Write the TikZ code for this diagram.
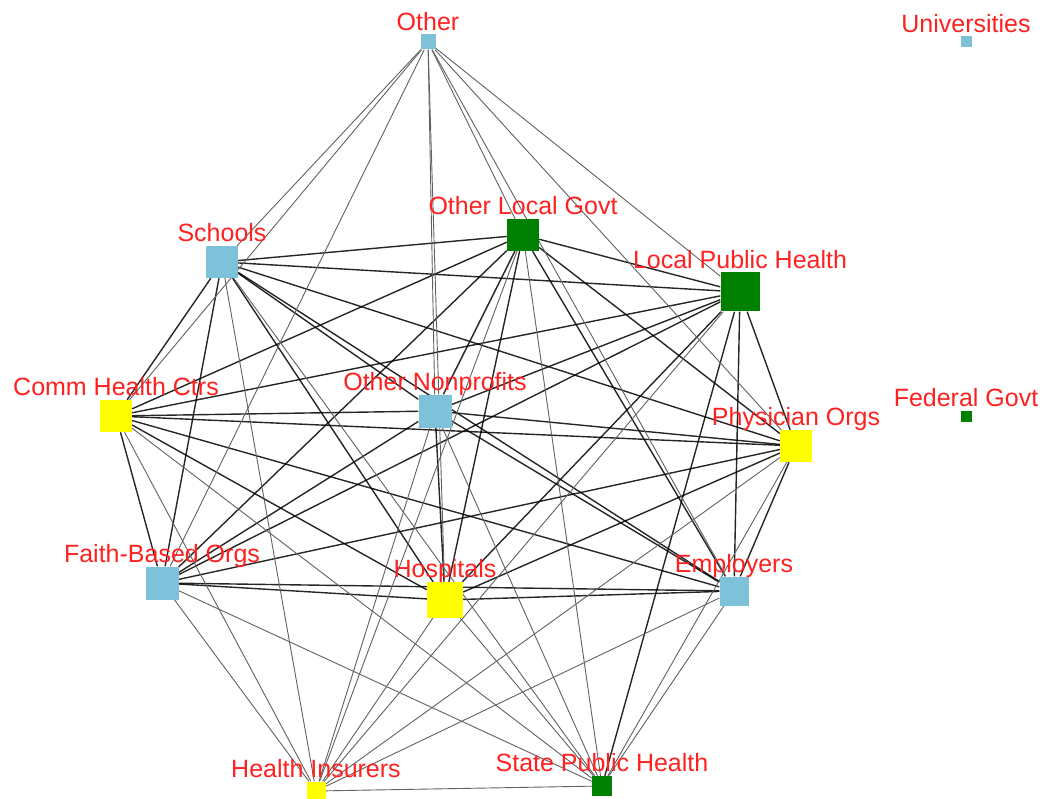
\documentclass[tikz,border=0pt]{standalone}
\usepackage{fontspec}
\setmainfont{Liberation Sans}
\definecolor{lblue}{RGB}{126,194,218}
\definecolor{dgreen}{RGB}{0,128,0}
\definecolor{ylw}{RGB}{255,255,0}
\definecolor{lred}{RGB}{255,32,32}
\pgfdeclarelayer{bg}
\pgfsetlayers{bg,main}
\begin{document}
\begin{tikzpicture}[x=1pt,y=-1pt,
  sq/.style={rectangle,inner sep=0pt,minimum size=#1,draw=none},
  lab/.style={text=lred,font=\fontsize{25}{30}\selectfont,anchor=base,inner sep=0pt},
  strong/.style={draw=black,line width=1.4pt,opacity=0.85},
  weak/.style={draw=black!62,line width=0.9pt}]
\useasboundingbox (0,0) rectangle (1046,799);
% nodes
\node[sq=15,fill=lblue] (O) at (428,42) {};
\node[sq=11,fill=lblue] (U) at (966,42) {};
\node[sq=32,fill=lblue] (S) at (222,262) {};
\node[sq=32,fill=dgreen] (OLG) at (523,235) {};
\node[sq=39,fill=dgreen] (LPH) at (740,292) {};
\node[sq=32,fill=ylw] (CHC) at (116,416) {};
\node[sq=33,fill=lblue] (ON) at (435,411) {};
\node[sq=32,fill=ylw] (PO) at (796,446) {};
\node[sq=11,fill=dgreen] (FG) at (966,416) {};
\node[sq=33,fill=lblue] (FBO) at (162,583) {};
\node[sq=36,fill=ylw] (H) at (445,600) {};
\node[sq=29,fill=lblue] (E) at (734,591) {};
\node[sq=19,fill=ylw] (HI) at (316,791) {};
\node[sq=20,fill=dgreen] (SPH) at (602,786) {};
% labels
\node[lab] (O-l) at ([yshift=4pt]O.north) {Other};
\node[lab] (U-l) at ([yshift=4pt]U.north) {Universities};
\node[lab] (S-l) at ([yshift=4pt]S.north) {Schools};
\node[lab] (OLG-l) at ([yshift=4pt]OLG.north) {Other Local Govt};
\node[lab] (LPH-l) at ([yshift=4pt]LPH.north) {Local Public Health};
\node[lab] (CHC-l) at ([yshift=4pt]CHC.north) {Comm Health Ctrs};
\node[lab] (ON-l) at ([yshift=4pt]ON.north) {Other Nonprofits};
\node[lab] (PO-l) at ([yshift=4pt]PO.north) {Physician Orgs};
\node[lab] (FG-l) at ([yshift=4pt]FG.north) {Federal Govt};
\node[lab] (FBO-l) at ([yshift=4pt]FBO.north) {Faith-Based Orgs};
\node[lab] (H-l) at ([yshift=4pt]H.north) {Hospitals};
\node[lab] (E-l) at ([yshift=4pt]E.north) {Employers};
\node[lab] (HI-l) at ([yshift=4pt]HI.north) {Health Insurers};
\node[lab] (SPH-l) at ([yshift=4pt]SPH.north) {State Public Health};
% edges
\begin{pgfonlayer}{bg}
\foreach \a/\b in {S/OLG,S/LPH,S/PO,S/ON,S/E,S/H,S/CHC,S/FBO,
  OLG/LPH,OLG/CHC,OLG/FBO,OLG/ON,OLG/H,OLG/E,OLG/PO,
  LPH/CHC,LPH/FBO,LPH/ON,LPH/H,LPH/E,LPH/PO,LPH/SPH,
  CHC/ON,CHC/PO,CHC/H,CHC/E,CHC/FBO,
  ON/PO,ON/H,ON/E,ON/FBO,
  PO/H,PO/E,PO/FBO,
  FBO/H,FBO/E,H/E}
  \draw[strong] (\a) -- (\b);
\foreach \a/\b in {O/S,O/CHC,O/FBO,O/ON,O/H,O/OLG,O/E,O/PO,O/LPH,
  HI/S,HI/CHC,HI/FBO,HI/ON,HI/OLG,HI/LPH,HI/H,HI/PO,HI/E,HI/SPH,
  SPH/S,SPH/CHC,SPH/FBO,SPH/ON,SPH/OLG,SPH/H,SPH/PO,SPH/E}
  \draw[weak] (\a) -- (\b);
\end{pgfonlayer}
\end{tikzpicture}
\end{document}
